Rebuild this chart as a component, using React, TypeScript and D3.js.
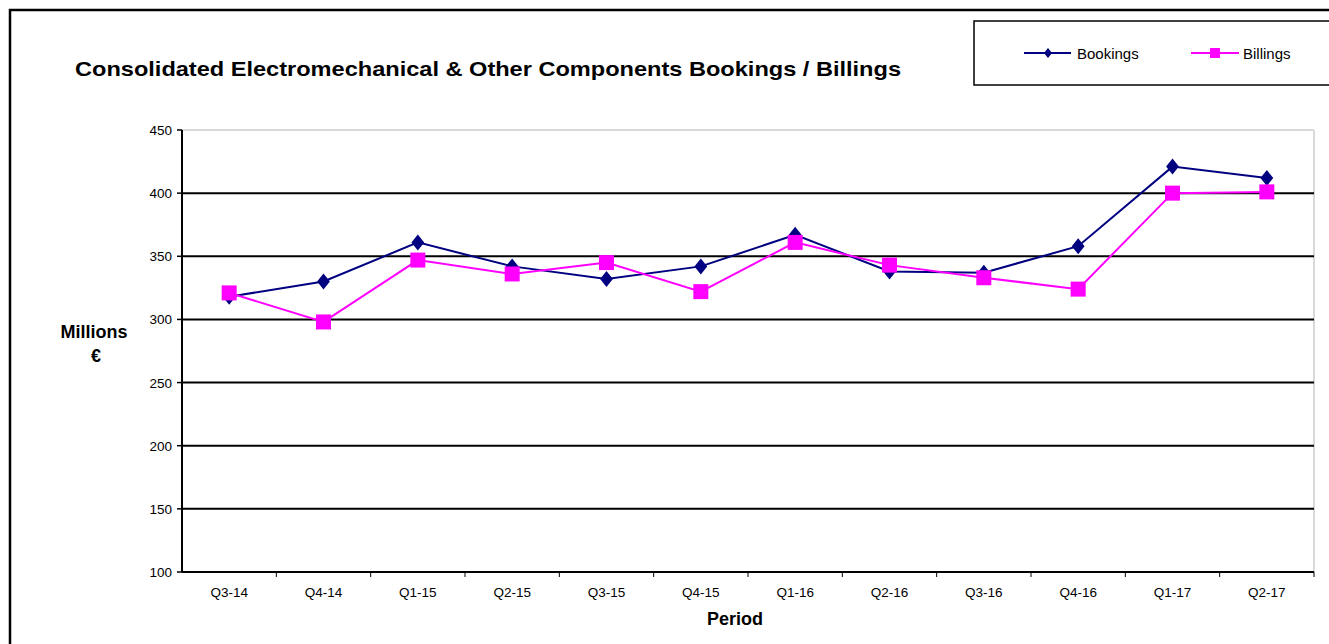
import React from "react";
import * as d3 from "d3";

const categories = ["Q3-14","Q4-14","Q1-15","Q2-15","Q3-15","Q4-15","Q1-16","Q2-16","Q3-16","Q4-16","Q1-17","Q2-17"];
const bookings = [318, 330, 361, 342, 332, 342, 367, 338, 337, 358, 421, 412];
const billings = [321, 298, 347, 336, 345, 322, 361, 343, 333, 324, 400, 401];
const yTicks = [100, 150, 200, 250, 300, 350, 400, 450];

const W = 1329, H = 644;
const L = 182, R = 1314, T = 130, B = 572;
const FONT = "'Liberation Sans', Arial, sans-serif";
const NAVY = "#000080";
const MAGENTA = "#FF00FF";

export default function App() {
  const x = d3.scaleBand<string>().domain(categories).range([L, R]);
  const y = d3.scaleLinear().domain([100, 450]).range([B, T]);
  const cx = (c: string) => (x(c) as number) + x.bandwidth() / 2;
  const line = d3.line<number>().x((_, i) => cx(categories[i])).y((v) => y(v));
  const diamond = (px: number, py: number, s = 7) =>
    `M${px},${py - s}L${px + s * 0.8},${py}L${px},${py + s}L${px - s * 0.8},${py}Z`;

  return (
    <svg width={W} height={H} style={{ position: "absolute", left: 0, top: 0, display: "block" }} fontFamily={FONT}>
      <rect x={0} y={0} width={W} height={H} fill="#fff" />
      {/* outer border */}
      <rect x={10} y={10} width={W + 20} height={H + 20} fill="none" stroke="#000" strokeWidth={2.5} />
      {/* title */}
      <text x={75} y={76} fontSize={21} fontWeight="bold" fill="#000" textLength={826} lengthAdjust="spacingAndGlyphs">
        Consolidated Electromechanical &amp; Other Components Bookings / Billings
      </text>
      {/* legend */}
      <rect x={974} y={21} width={W} height={64} fill="#fff" stroke="#000" strokeWidth={1.5} />
      <line x1={1024} x2={1071} y1={53} y2={53} stroke={NAVY} strokeWidth={2} />
      <path d={diamond(1048, 53, 5)} fill={NAVY} />
      <text x={1077} y={59} fontSize={15} fill="#000">Bookings</text>
      <line x1={1191} x2={1239} y1={53} y2={53} stroke={MAGENTA} strokeWidth={2} />
      <rect x={1210} y={48} width={10} height={10} fill={MAGENTA} />
      <text x={1243} y={59} fontSize={15} fill="#000">Billings</text>

      {/* plot border */}
      <line x1={L} x2={R} y1={T} y2={T} stroke="#d9d9d9" strokeWidth={2} />
      <line x1={R} x2={R} y1={T} y2={B} stroke="#d9d9d9" strokeWidth={2} />
      {/* gridlines */}
      {yTicks.filter((t) => t !== 100 && t !== 450).map((t) => (
        <line key={t} x1={L} x2={R} y1={y(t)} y2={y(t)} stroke="#000" strokeWidth={2} />
      ))}
      {/* axes */}
      <line x1={L} x2={L} y1={T} y2={B} stroke="#000" strokeWidth={2} />
      <line x1={L} x2={R} y1={B} y2={B} stroke="#000" strokeWidth={2} />
      {yTicks.map((t) => (
        <g key={t}>
          <line x1={L - 5} x2={L} y1={y(t)} y2={y(t)} stroke="#000" strokeWidth={1.5} />
          <text x={172} y={y(t) + 5} fontSize={13.5} textAnchor="end" fill="#000">{t}</text>
        </g>
      ))}
      {categories.map((c) => (
        <g key={c}>
          <line x1={(x(c) as number) + x.bandwidth()} x2={(x(c) as number) + x.bandwidth()} y1={B} y2={B + 5} stroke="#000" strokeWidth={1} />
          <text x={cx(c)} y={597} fontSize={13.5} textAnchor="middle" fill="#000">{c}</text>
        </g>
      ))}
      <text x={94} y={338} fontSize={18} fontWeight="bold" textAnchor="middle" fill="#000">Millions</text>
      <text x={96} y={362} fontSize={18} fontWeight="bold" textAnchor="middle" fill="#000">€</text>
      <text x={735} y={625} fontSize={18} fontWeight="bold" textAnchor="middle" fill="#000">Period</text>

      {/* series */}
      <path d={line(bookings) as string} fill="none" stroke={NAVY} strokeWidth={2} />
      <path d={line(billings) as string} fill="none" stroke={MAGENTA} strokeWidth={2} />
      {bookings.map((v, i) => (
        <path key={"b" + i} d={diamond(cx(categories[i]), y(v), 8)} fill={NAVY} />
      ))}
      {billings.map((v, i) => (
        <rect key={"s" + i} x={cx(categories[i]) - 7.5} y={y(v) - 7.5} width={15} height={15} fill={MAGENTA} />
      ))}
    </svg>
  );
}
